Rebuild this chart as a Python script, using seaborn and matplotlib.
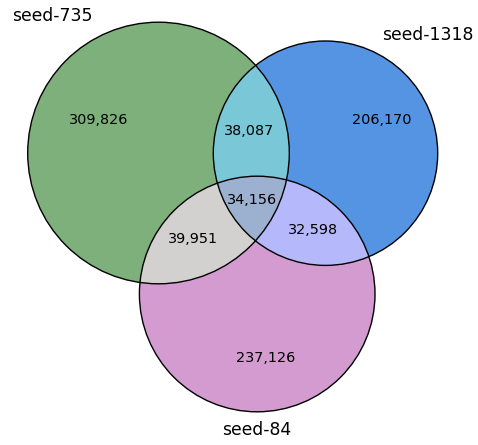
import matplotlib
matplotlib.use("Agg")
import matplotlib.pyplot as plt
from matplotlib.patches import Circle, Polygon
import seaborn as sns
import numpy as np

# set names and region counts
set_names = ["seed-735", "seed-1318", "seed-84"]
region_keys = ["100", "010", "001", "110", "101", "011", "111"]
region_counts = [309826, 206170, 237126, 38087, 39951, 32598, 34156]
region_colors = ["#7eb07b", "#5594e2", "#d49bd0", "#7ac7d8", "#d3d1cf", "#b6b8fc", "#9cb1d0"]

# layout (pixel units, y down)
centers = [(158.5, 153.0), (325.5, 153.2), (257.2, 294.0)]
radii = [130.8, 112.2, 117.8]
label_pos = {"100": (99, 120), "010": (382, 120), "001": (266, 358),
             "110": (249, 131), "101": (193, 239), "011": (313, 230), "111": (252, 200)}
name_pos = [(52, 16), (428, 35), (257, 430)]

sns.set_theme(style="white")
plt.rcParams["font.family"] = ["DejaVu Sans"]

fig = plt.figure(figsize=(4.78, 4.45), dpi=100)
ax = fig.add_axes([0, 0, 1, 1])
ax.set_xlim(0, 478)
ax.set_ylim(445, 0)
ax.set_aspect("equal")
ax.axis("off")


def circle_pts(i, n=720):
    t = np.linspace(0, 2 * np.pi, n, endpoint=False)
    cx, cy = centers[i]
    return np.column_stack([cx + radii[i] * np.cos(t), cy + radii[i] * np.sin(t)])


def inside(pts, i):
    cx, cy = centers[i]
    return np.hypot(pts[:, 0] - cx, pts[:, 1] - cy) <= radii[i] + 1e-9


def intersection_poly(idx):
    # intersection of convex discs: boundary points inside all others, sorted by angle
    pts = []
    for i in idx:
        p = circle_pts(i)
        keep = np.ones(len(p), bool)
        for j in idx:
            if j != i:
                keep &= inside(p, j)
        pts.append(p[keep])
    pts = np.vstack(pts)
    c = pts.mean(axis=0)
    order = np.argsort(np.arctan2(pts[:, 1] - c[1], pts[:, 0] - c[0]))
    return pts[order]


# single set fills
for i in range(3):
    ax.add_patch(Circle(centers[i], radii[i], facecolor=region_colors[i], edgecolor="none", zorder=1))

# pairwise fills
for k, (i, j) in zip([3, 4, 5], [(0, 1), (0, 2), (1, 2)]):
    ax.add_patch(Polygon(intersection_poly([i, j]), closed=True, facecolor=region_colors[k],
                         edgecolor="none", zorder=2))

# triple fill
ax.add_patch(Polygon(intersection_poly([0, 1, 2]), closed=True, facecolor=region_colors[6],
                     edgecolor="none", zorder=3))

# outlines
for i in range(3):
    ax.add_patch(Circle(centers[i], radii[i], facecolor="none", edgecolor="black", lw=1.0, zorder=4))

for key, cnt in zip(region_keys, region_counts):
    x, y = label_pos[key]
    ax.text(x, y, f"{cnt:,}", ha="center", va="center", fontsize=10.4, color="black", zorder=5)

for name, (x, y) in zip(set_names, name_pos):
    ax.text(x, y, name, ha="center", va="center", fontsize=12.4, color="black", zorder=5)

fig.savefig("out.png", dpi=100, facecolor="white")
